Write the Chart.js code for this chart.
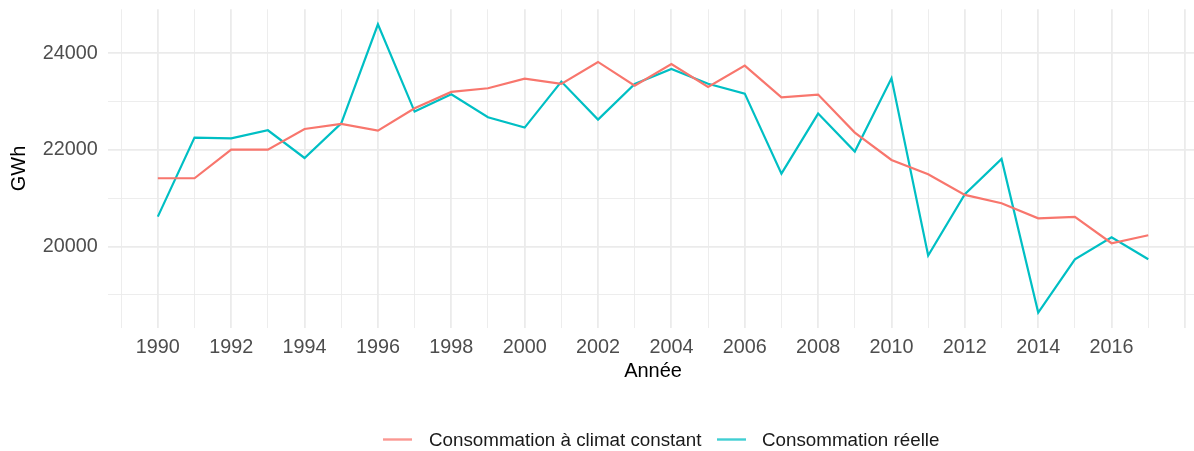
<!DOCTYPE html>
<html>
<head>
<meta charset="utf-8">
<script src="https://cdn.jsdelivr.net/npm/chart.js@4/dist/chart.umd.min.js"></script>
<style>
  html, body { margin: 0; padding: 0; background: #fff; overflow: hidden; }
  canvas { display: block; }
</style>
</head>
<body>
<canvas id="chart" width="1200" height="451"></canvas>
<script>
// Data
const years = [1990, 1991, 1992, 1993, 1994, 1995, 1996, 1997, 1998, 1999,
    2000, 2001, 2002, 2003, 2004, 2005, 2006, 2007, 2008, 2009,
    2010, 2011, 2012, 2013, 2014, 2015, 2016, 2017];
const climatConstant = [21414, 21414, 22005, 22005, 22434, 22538, 22400, 22862, 23200, 23276,
    23476, 23366, 23821, 23331, 23779, 23303, 23745, 23090, 23145, 22359,
    21793, 21497, 21069, 20897, 20586, 20614, 20069, 20234];
const reelle = [20621, 22255, 22241, 22407, 21834, 22552, 24600, 22793, 23152, 22676,
    22462, 23414, 22628, 23366, 23676, 23370, 23166, 21510, 22752, 21966,
    23483, 19814, 21083, 21814, 18634, 19738, 20193, 19738];
const seriesLabels = ['Consommation à climat constant', 'Consommation réelle'];
const seriesColors = ['#F8766D', '#00BFC4'];
const xLabelYears = [1990, 1992, 1994, 1996, 1998, 2000, 2002, 2004, 2006, 2008, 2010, 2012, 2014, 2016];
const yTicks = [19000, 20000, 21000, 22000, 23000, 24000];
const yLabels = [20000, 22000, 24000];

const FONT = "'Liberation Sans', Arial, sans-serif";
const gridMajor = '#ebebeb';

const toPoints = (vals) => years.map((y, i) => ({ x: y, y: vals[i] }));

// ggplot-like legend under the plot
const legendPlugin = {
    id: 'bottomLegend',
    afterDraw(chart) {
        const ctx = chart.ctx;
        const keys = [{ x: 383, tx: 429 }, { x: 717, tx: 762 }];
        const yc = 439.5;
        ctx.save();
        ctx.font = '18.8px ' + FONT;
        ctx.textBaseline = 'middle';
        ctx.textAlign = 'left';
        chart.data.datasets.forEach((ds, i) => {
            ctx.strokeStyle = ds.borderColor;
            ctx.globalAlpha = 0.75;
            ctx.lineWidth = 2.4;
            ctx.beginPath();
            ctx.moveTo(keys[i].x, yc);
            ctx.lineTo(keys[i].x + 29, yc);
            ctx.stroke();
            ctx.globalAlpha = 1;
            ctx.fillStyle = '#1a1a1a';
            ctx.fillText(ds.label, keys[i].tx, yc + 1);
        });
        ctx.restore();
    }
};

new Chart(document.getElementById('chart'), {
    type: 'line',
    data: {
        datasets: [
            {
                label: seriesLabels[0],
                data: toPoints(climatConstant),
                borderColor: seriesColors[0],
                borderWidth: 2.2,
                pointRadius: 0,
                tension: 0,
            },
            {
                label: seriesLabels[1],
                data: toPoints(reelle),
                borderColor: seriesColors[1],
                borderWidth: 2.2,
                pointRadius: 0,
                tension: 0,
            },
        ],
    },
    options: {
        responsive: false,
        animation: false,
        layout: { padding: { top: 9.3, right: 2.2, bottom: 67.3, left: 0 } },
        plugins: {
            legend: { display: false },
            tooltip: { enabled: false },
        },
        scales: {
            x: {
                type: 'linear',
                min: 1988.65,
                max: 2018.35,
                afterBuildTicks: (scale) => {
                    const t = [];
                    for (let y = 1989; y <= 2018; y++) t.push({ value: y });
                    scale.ticks = t;
                },
                afterFit: (scale) => {
                    scale.height = 56;
                    scale.paddingLeft = 0;
                    scale.paddingRight = 0;
                },
                border: { display: false },
                grid: {
                    drawTicks: false,
                    color: gridMajor,
                    lineWidth: (c) => (c.tick && c.tick.value % 2 === 0 ? 1.8 : 0.9),
                },
                ticks: {
                    autoSkip: false,
                    maxRotation: 0,
                    padding: 7.5,
                    color: '#4d4d4d',
                    font: { family: FONT, size: 19.8 },
                    callback: (v) => (xLabelYears.includes(v) ? String(v) : ''),
                },
                title: {
                    display: true,
                    text: 'Année',
                    color: '#000',
                    font: { family: FONT, size: 20 },
                    padding: { top: 0, bottom: 0 },
                },
            },
            y: {
                min: 18322,
                max: 24910,
                afterBuildTicks: (scale) => {
                    scale.ticks = yTicks.map((v) => ({ value: v }));
                },
                afterFit: (scale) => {
                    scale.width = 108.3;
                    scale.paddingTop = 0;
                    scale.paddingBottom = 0;
                },
                border: { display: false },
                grid: {
                    drawTicks: false,
                    color: gridMajor,
                    lineWidth: (c) => (c.tick && yLabels.includes(c.tick.value) ? 1.8 : 0.9),
                },
                ticks: {
                    padding: 10.6,
                    color: '#4d4d4d',
                    font: { family: FONT, size: 19.8 },
                    callback: (v) => (yLabels.includes(v) ? String(v) : ''),
                },
                title: {
                    display: true,
                    text: 'GWh',
                    color: '#000',
                    font: { family: FONT, size: 20 },
                    padding: { top: 7, bottom: 0 },
                },
            },
        },
    },
    plugins: [legendPlugin],
});
</script>
</body>
</html>
